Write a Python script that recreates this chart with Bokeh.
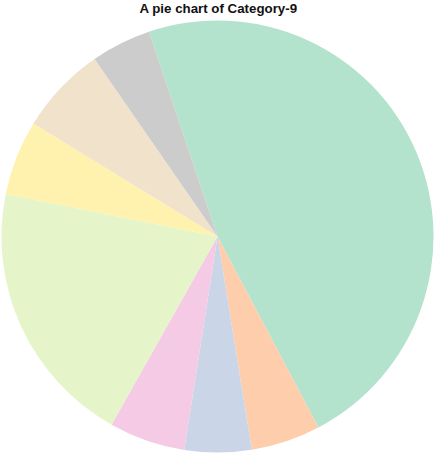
import math
from bokeh.plotting import figure
from bokeh.models import ColumnDataSource
from bokeh.core.properties import value
from bokeh.embed import file_html
from bokeh.resources import INLINE

categories = ["A", "B", "C", "D", "E", "F", "G", "H"]
values = [47.4, 5.2, 5.0, 5.7, 20.0, 5.6, 6.6, 4.5]
colors = ["#b3e2cd", "#fdcdac", "#cbd5e8", "#f4cae4", "#e6f5c9", "#fff2ae", "#f1e2cc", "#cccccc"]
title_text = "A pie chart of Category-9"

start_deg = 108.5
total = sum(values)
starts, ends = [], []
acc = 0.0
for v in values:
    a0 = start_deg - acc / total * 360.0
    acc += v
    a1 = start_deg - acc / total * 360.0
    starts.append(math.radians(a0))
    ends.append(math.radians(a1))

src = ColumnDataSource(dict(cat=categories, val=values, color=colors, start=starts, end=ends))

W, H = 434, 453
p = figure(width=W, height=H, x_range=(0, W), y_range=(0, H),
           output_backend="svg", toolbar_location=None, min_border=0)
p.axis.visible = False
p.grid.visible = False
p.outline_line_color = None
p.background_fill_color = "white"

p.wedge(x=217, y=H - 236, radius=216, start_angle="start", end_angle="end",
        direction="clock", fill_color="color", line_color=None, source=src)

p.text(x=[218], y=[H - 7.5], text=[title_text], text_align="center", text_baseline="middle",
       text_font=value("Liberation Sans"), text_font_style="bold",
       text_font_size="13.3px", text_color="#111111")

open("out.html", "w").write(file_html(p, INLINE))
